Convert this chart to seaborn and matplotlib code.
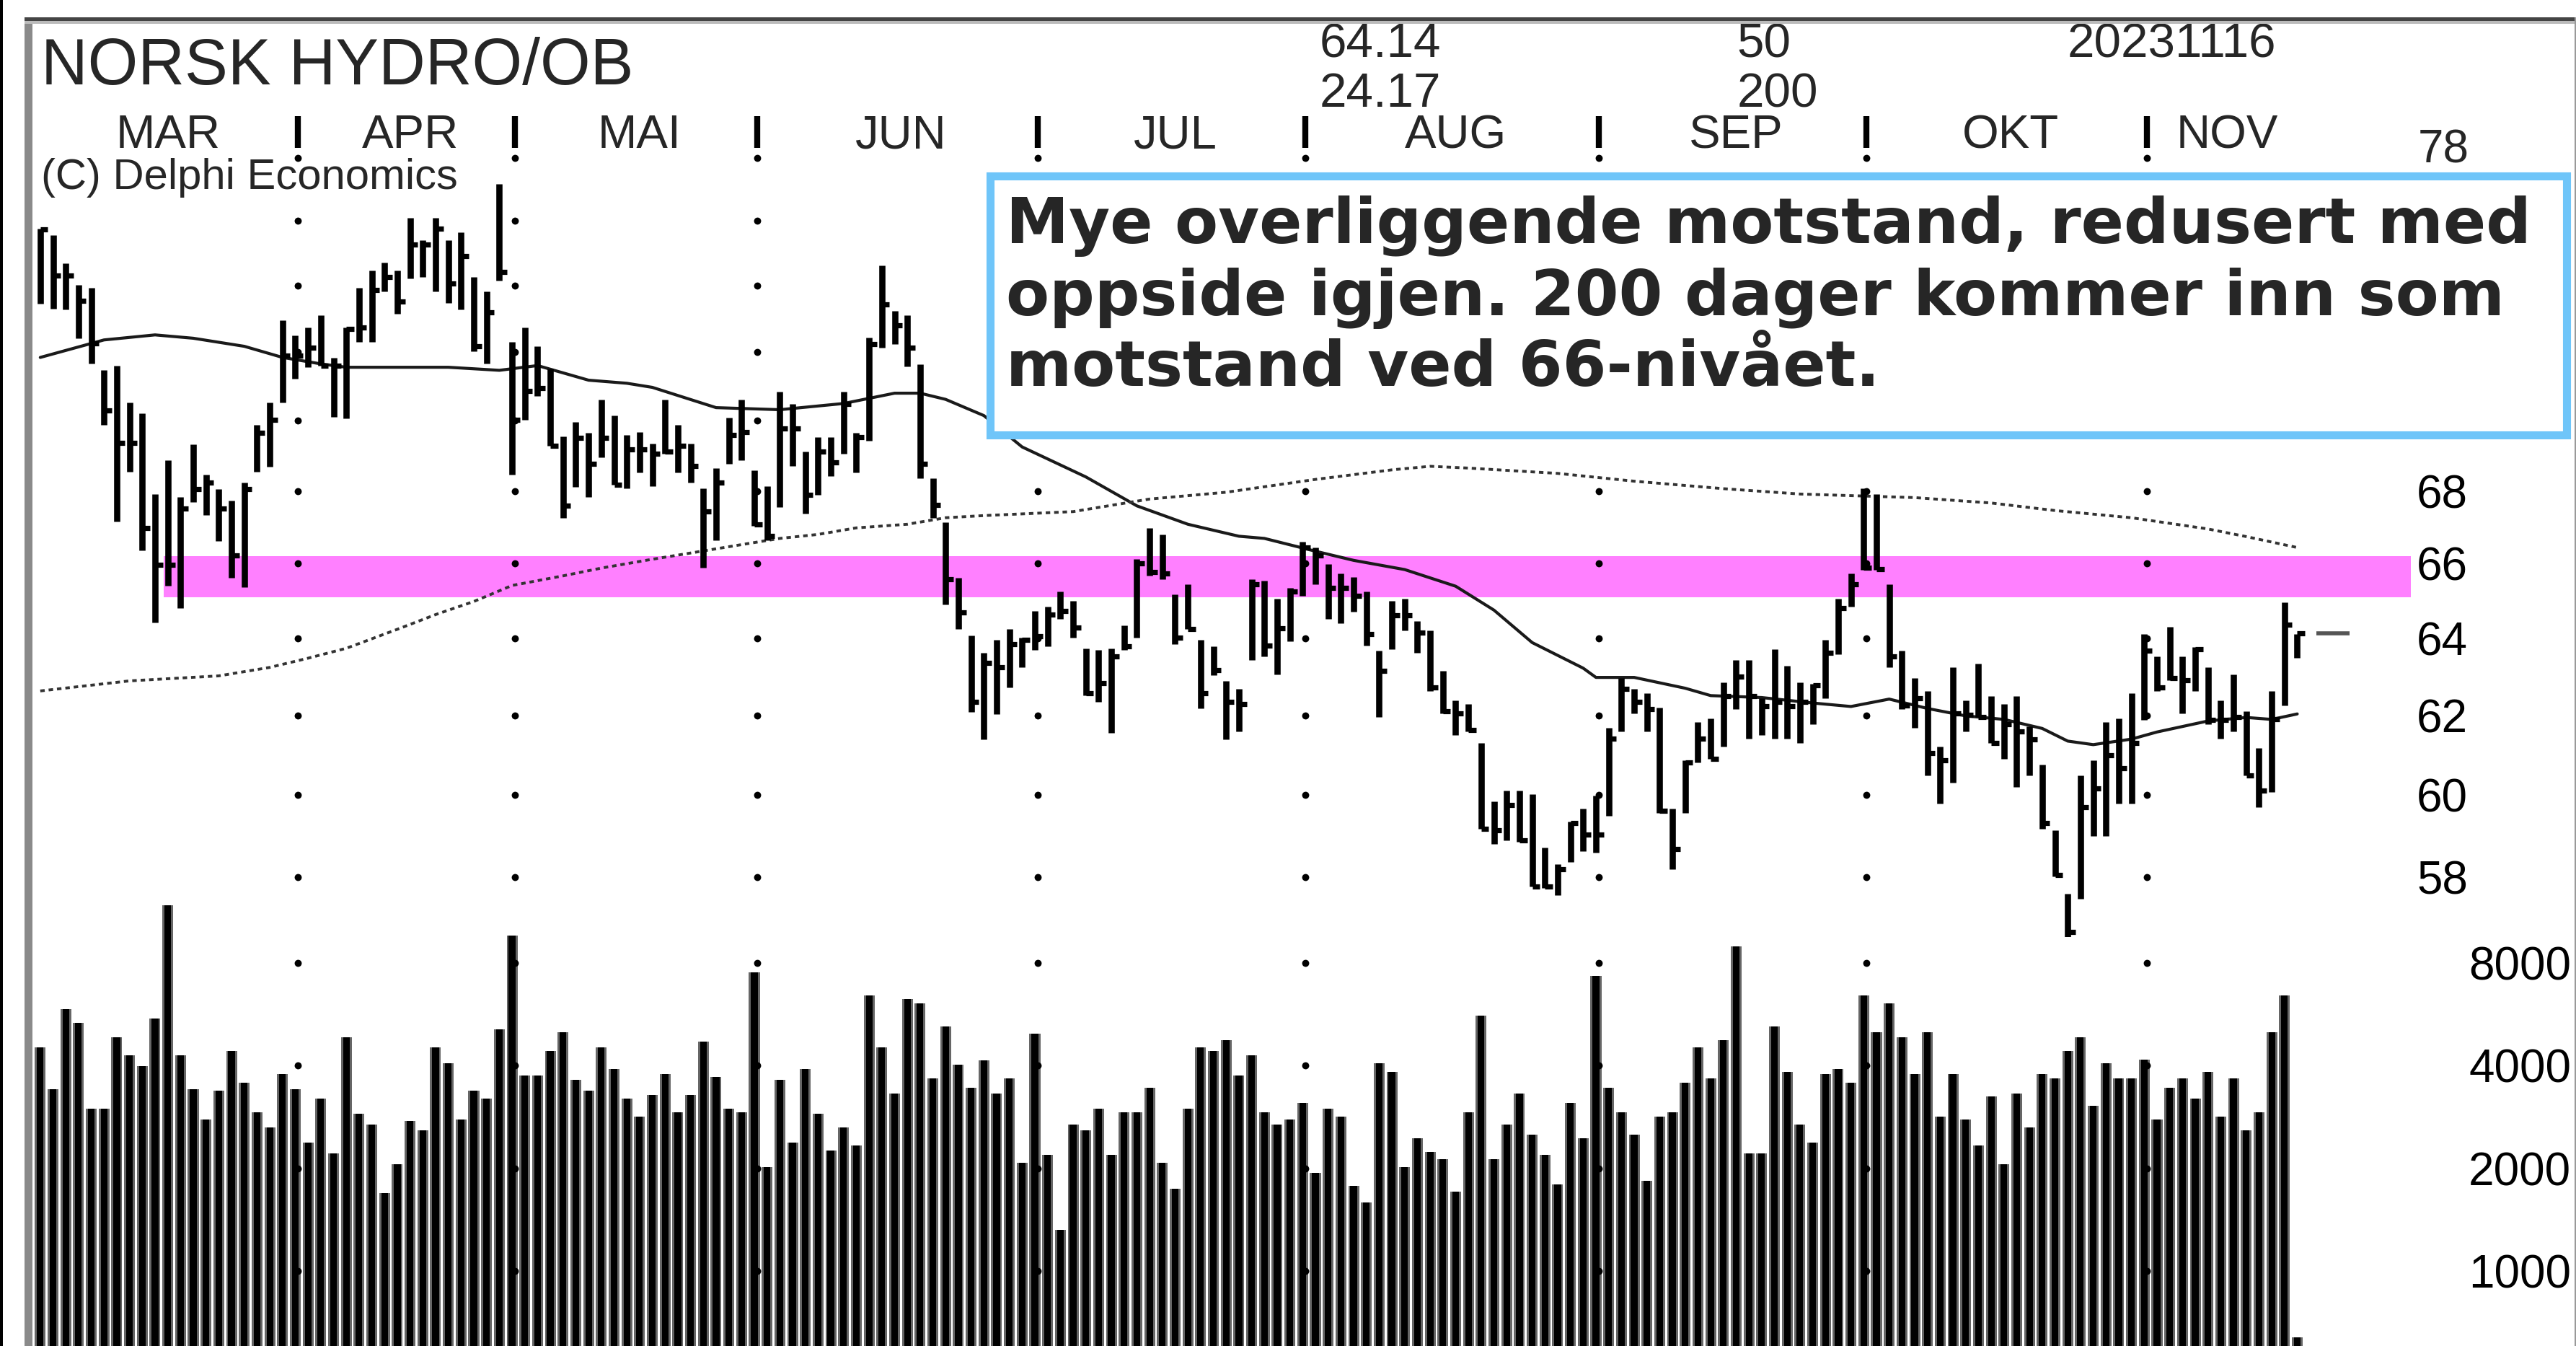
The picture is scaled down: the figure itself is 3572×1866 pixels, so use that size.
import numpy as np
import pandas as pd
import matplotlib
matplotlib.use("Agg")
import matplotlib.pyplot as plt
from matplotlib.patches import Rectangle
from matplotlib.ticker import NullLocator
import seaborn as sns

# daily bars (NOK)
highs = [
    75.77, 75.57, 74.70, 74.03, 73.93, 71.47, 71.61, 70.52, 70.21, 67.92,
    68.87, 67.83, 69.33, 68.46, 68.06, 67.74, 68.24, 69.88, 70.53, 72.95,
    72.51, 72.75, 73.10, 71.85, 72.75, 73.93, 74.46, 74.71, 74.46, 76.10,
    75.40, 76.10, 75.40, 75.65, 74.27, 73.82, 77.17, 72.32, 72.75, 72.18,
    71.51, 69.56, 69.97, 69.65, 70.62, 70.16, 69.59, 69.67, 69.35, 70.61,
    69.89, 69.35, 68.07, 68.65, 70.08, 70.61, 68.59, 68.14, 70.85, 70.49,
    69.12, 69.53, 69.53, 70.85, 69.65, 72.44, 74.63, 73.25, 73.12, 71.64,
    68.36, 67.14, 65.62, 64.07, 63.63, 63.96, 64.24, 64.02, 64.73, 64.85,
    65.24, 65.00, 63.74, 63.69, 63.74, 64.35, 66.12, 66.97, 66.80, 65.17,
    65.45, 63.96, 63.80, 62.88, 62.68, 65.58, 65.54, 65.05, 65.34, 66.59,
    66.44, 65.99, 65.74, 65.64, 65.24, 63.67, 64.99, 65.05, 64.46, 64.21,
    63.15, 62.39, 62.30, 61.31, 59.84, 60.12, 60.12, 60.03, 58.72, 58.32,
    59.35, 59.66, 59.98, 61.69, 62.96, 62.68, 62.58, 62.20, 59.66, 60.86,
    61.83, 61.92, 62.86, 63.43, 63.43, 62.44, 63.72, 63.29, 62.86, 62.82,
    63.97, 65.05, 65.74, 68.07, 67.92, 65.44, 63.67, 62.96, 62.63, 61.22,
    63.24, 62.39, 63.34, 62.49, 62.30, 62.49, 61.73, 60.76, 59.13, 57.62,
    60.49, 60.86, 61.83, 61.92, 62.58, 64.12, 63.53, 64.31, 63.53, 63.77,
    63.24, 62.39, 63.05, 62.11, 61.18, 62.63, 64.95, 64.12]
lows = [
    73.45, 73.30, 73.29, 72.42, 71.66, 69.88, 67.16, 68.55, 66.36, 64.42,
    65.41, 64.81, 67.70, 67.34, 66.62, 65.62, 65.36, 68.55, 68.69, 70.53,
    71.23, 71.56, 71.61, 70.12, 70.07, 72.32, 72.32, 73.82, 73.15, 74.22,
    74.27, 73.82, 73.48, 73.29, 72.03, 71.66, 74.17, 68.46, 70.03, 70.71,
    69.28, 67.25, 68.11, 67.83, 68.96, 68.19, 68.07, 68.53, 68.14, 69.06,
    68.53, 68.24, 65.90, 66.63, 68.77, 68.88, 67.03, 66.63, 67.55, 68.71,
    67.38, 67.90, 68.42, 69.06, 68.53, 69.42, 72.13, 72.25, 71.58, 68.36,
    67.26, 64.90, 64.24, 62.09, 61.40, 62.03, 62.72, 63.25, 63.69, 63.80,
    64.52, 64.02, 62.51, 62.35, 61.56, 63.69, 64.02, 65.68, 65.57, 63.85,
    64.24, 62.19, 63.04, 61.40, 61.59, 63.44, 63.53, 63.05, 63.92, 65.14,
    65.44, 64.51, 64.41, 64.70, 63.82, 61.97, 63.72, 64.21, 63.63, 62.63,
    62.06, 61.50, 61.59, 59.17, 58.81, 58.90, 58.86, 57.79, 57.75, 57.57,
    58.37, 58.63, 58.59, 59.49, 61.59, 62.06, 61.59, 59.57, 58.20, 59.57,
    60.81, 60.90, 61.22, 62.16, 61.41, 61.50, 61.41, 61.41, 61.31, 61.78,
    62.44, 63.58, 64.85, 65.84, 65.84, 63.24, 62.16, 61.69, 60.49, 59.80,
    60.31, 61.59, 61.97, 61.31, 60.90, 60.21, 60.49, 59.17, 58.02, 56.54,
    57.49, 58.99, 58.99, 59.80, 59.80, 61.88, 62.63, 62.91, 62.06, 62.63,
    61.78, 61.41, 61.59, 60.49, 59.71, 60.08, 62.25, 63.48]
closes = [
    75.75, 74.32, 74.32, 73.54, 72.27, 70.30, 69.37, 69.37, 66.98, 65.97,
    65.97, 67.52, 68.06, 68.24, 67.52, 66.23, 68.06, 69.65, 70.03, 71.90,
    71.90, 72.13, 71.61, 71.61, 72.70, 72.75, 73.87, 74.27, 73.53, 75.26,
    75.26, 75.76, 74.07, 74.91, 72.18, 73.19, 74.42, 70.03, 70.86, 70.95,
    69.28, 67.60, 69.51, 68.78, 69.51, 68.19, 69.18, 69.18, 69.06, 69.12,
    69.29, 68.71, 67.44, 68.24, 69.59, 69.67, 67.08, 66.75, 69.77, 69.77,
    67.90, 69.11, 68.82, 70.49, 69.53, 72.25, 73.43, 72.80, 72.13, 68.77,
    67.61, 65.57, 64.68, 62.35, 63.36, 63.25, 63.84, 63.97, 64.06, 64.63,
    64.72, 64.29, 62.57, 62.83, 63.53, 63.80, 66.01, 65.78, 65.73, 64.02,
    64.24, 62.57, 63.16, 62.35, 62.30, 65.45, 63.82, 64.26, 65.24, 66.44,
    66.22, 65.34, 65.34, 65.14, 64.11, 63.15, 64.61, 64.61, 64.16, 62.72,
    62.11, 62.06, 61.64, 59.17, 59.13, 59.75, 58.90, 57.79, 57.79, 58.20,
    59.31, 59.04, 59.04, 61.41, 62.68, 62.35, 62.16, 59.62, 58.68, 60.81,
    61.41, 60.90, 62.49, 63.00, 62.49, 62.23, 62.35, 62.23, 62.35, 62.77,
    63.63, 64.81, 65.44, 65.89, 65.86, 63.53, 62.25, 62.44, 61.04, 60.86,
    62.06, 62.02, 61.97, 61.31, 61.78, 61.60, 61.39, 59.31, 58.06, 56.71,
    59.71, 60.16, 60.99, 60.67, 61.31, 63.67, 62.72, 62.96, 62.91, 63.72,
    61.88, 61.88, 61.97, 60.49, 60.12, 61.90, 64.36, 64.14]
volume = [
    4519, 3417, 5852, 5332, 2988, 2988, 4857, 4289, 3991, 5499,
    11820, 4289, 3417, 2780, 3383, 4425, 3560, 2926, 2639, 3788,
    3417, 2381, 3212, 2215, 4857, 2897, 2695, 1693, 2061, 2753,
    2587, 4519, 4076, 2780, 3383, 3212, 5117, 9607, 3751, 3751,
    4425, 5010, 3636, 3383, 4519, 3908, 3212, 2836, 3280, 3788,
    2926, 3280, 4709, 3714, 2988, 2926, 7502, 2018, 3636, 2381,
    3908, 2897, 2262, 2639, 2331, 6423, 4519, 3313, 6289, 6097,
    3673, 5220, 4031, 3455, 4158, 3313, 3673, 2081, 4960, 2193,
    1321, 2695, 2587, 2988, 2193, 2926, 2926, 3455, 2081, 1745,
    2988, 4519, 4425, 4762, 3751, 4289, 2926, 2695, 2780, 3113,
    1937, 2988, 2836, 1782, 1592, 4076, 3830, 2018, 2456, 2237,
    2126, 1710, 2926, 5610, 2126, 2695, 3313, 2508, 2193, 1800,
    3113, 2456, 7346, 3455, 2926, 2508, 1839, 2836, 2926, 3560,
    4519, 3673, 4762, 8938, 2215, 2215, 5220, 3830, 2695, 2381,
    3788, 3908, 3560, 6423, 5010, 6097, 4857, 3788, 5010, 2836,
    3788, 2780, 2331, 3247, 2061, 3313, 2639, 3788, 3673, 4425,
    4857, 3052, 4076, 3673, 3673, 4163, 2780, 3455, 3673, 3212,
    3830, 2836, 3673, 2587, 2926, 5010, 6423, 640]

# moving averages, sampled along the drawn lines
ma50_idx = [0, 5, 9, 12, 16, 19, 22, 24, 32, 36, 39, 43, 46, 48, 53, 58, 63, 67,
            69, 71, 74, 77, 82, 86, 90, 94, 96, 100, 103, 107, 111, 114, 117, 121,
            122, 125, 129, 131, 135, 139, 142, 145, 148, 151, 154, 157, 159, 161,
            164, 166, 170, 173, 175, 177]
ma50_val = [71.85, 72.37, 72.52, 72.42, 72.18, 71.85, 71.66, 71.56, 71.56, 71.47,
            71.61, 71.18, 71.09, 70.97, 70.38, 70.32, 70.50, 70.80, 70.80, 70.62,
            70.15, 69.25, 68.40, 67.59, 67.08, 66.75, 66.69, 66.34, 66.09, 65.84,
            65.39, 64.75, 63.89, 63.22, 62.98, 62.98, 62.70, 62.51, 62.46, 62.32,
            62.23, 62.42, 62.18, 61.99, 61.90, 61.67, 61.35, 61.26, 61.40, 61.58,
            61.86, 61.95, 61.90, 62.04]
ma200_idx = [0, 7, 14, 18, 21, 24, 28, 31, 34, 37, 41, 44, 48, 51, 55, 58, 61, 64,
             68, 71, 74, 81, 87, 93, 100, 106, 109, 112, 119, 125, 132, 138, 147,
             153, 158, 164, 170, 173, 177]
ma200_val = [62.63, 62.89, 63.02, 63.24, 63.48, 63.74, 64.24, 64.63, 64.98, 65.41,
             65.67, 65.88, 66.12, 66.29, 66.52, 66.69, 66.80, 66.98, 67.08, 67.26,
             67.32, 67.43, 67.78, 67.97, 68.33, 68.60, 68.70, 68.65, 68.50, 68.28,
             68.07, 67.92, 67.82, 67.67, 67.46, 67.26, 66.95, 66.74, 66.44]

months = ["MAR", "APR", "MAI", "JUN", "JUL", "AUG", "SEP", "OKT", "NOV"]
month_start = [0, 21, 38, 57, 79, 100, 123, 144, 166]
price_grid = [58, 60, 62, 64, 66, 68, 70, 72, 74, 76, 78]
price_labels = [58, 60, 62, 64, 66, 68]
top_label = 78
volume_grid = [1000, 2000, 4000, 8000]
band_low, band_high = 65.1, 66.2
band_start = 9.7
last_close = 64.14
header_top = ["64.14", "50", "20231116"]
header_bottom = ["24.17", "200"]
note = ["Mye overliggende motstand, redusert med",
        "oppside igjen. 200 dager kommer inn som",
        "motstand ved 66-nivået."]

sns.set_theme(style="white")
plt.rcParams["font.family"] = ["Liberation Sans", "DejaVu Sans"]

# layout is measured on a 1568 x 819 grid
W, H = 1568.0, 819.0
def fx(x):
    return x / W
def fy(y):
    return 1 - y / H

fig = plt.figure(figsize=(35.73, 18.66), dpi=100)
fig.patch.set_facecolor("white")

ax = fig.add_axes([fx(20), fy(570), fx(1467) - fx(20), fy(85) - fy(570)])
axv = fig.add_axes([fx(20), 0, fx(1467) - fx(20), fy(540)])
xmax = 185.9
for a in (ax, axv):
    a.set_facecolor("none")
    for s in a.spines.values():
        s.set_visible(False)
    a.set_xlim(-0.58, xmax)
    a.set_xticks([])
    a.set_yscale("log")
    a.yaxis.set_minor_locator(NullLocator())
ax.set_ylim(56.60, 78.59)
axv.set_ylim(603.6, 13320)

x = np.arange(len(highs))
seps = [s - 0.8 for s in month_start[1:]]

# resistance band
ax.fill_between([band_start, xmax], band_low, band_high, color="#FF80FF", lw=0, zorder=1)

# dotted grid points at month breaks
grid_df = pd.DataFrame([(s, lv) for s in seps for lv in price_grid], columns=["x", "y"])
sns.scatterplot(data=grid_df, x="x", y="y", ax=ax, color="black", s=50,
                linewidth=0, zorder=2, legend=False)
vgrid_df = pd.DataFrame([(s, lv) for s in seps for lv in volume_grid], columns=["x", "y"])
sns.scatterplot(data=vgrid_df, x="x", y="y", ax=axv, color="black", s=50,
                linewidth=0, zorder=4, legend=False)

# moving averages
sns.lineplot(x=ma50_idx, y=ma50_val, ax=ax, color="#1a1a1a", linewidth=3, zorder=3)
sns.lineplot(x=ma200_idx, y=ma200_val, ax=ax, color="#333333", linewidth=2.8,
             linestyle=(0, (1.6, 1.4)), zorder=3)

# HLC bars
ax.vlines(x, lows, highs, colors="black", lw=6.2, zorder=4)
ax.hlines(closes, x, x + 0.6, colors="black", lw=5.2, zorder=4)
ax.hlines(last_close, 178.5, 181.1, colors="#555555", lw=4, zorder=4)

# volume
vol = np.array(volume, dtype=float)
axv.bar(x, vol - 100, bottom=100, width=0.85, color="#666666", lw=0, zorder=2)
axv.bar(x, vol - 100, bottom=100, width=0.52, color="black", lw=0, zorder=3)

for a in (ax, axv):
    a.set_xlabel("")
    a.set_ylabel("")

# right hand scales
ax.yaxis.tick_right()
ax.set_yticks(price_labels, labels=[str(v) for v in price_labels])
ax.tick_params(axis="y", length=0, pad=6, labelsize=46, colors="black")
ax.annotate(str(top_label), xy=(1, top_label), xycoords=ax.get_yaxis_transform(),
            xytext=(7, 7.4), textcoords="offset points", ha="left", va="center",
            fontsize=46, annotation_clip=False)
axv.yaxis.tick_right()
axv.set_yticks(volume_grid, labels=[str(v) for v in volume_grid])
axv.tick_params(axis="y", length=0, pad=160, labelsize=46, colors="black")
for lab in axv.get_yticklabels():
    lab.set_ha("right")

# month row
xt = ax.get_xaxis_transform()
ax.vlines(seps, 0.9897, 1.0299, transform=xt, colors="black", lw=6, clip_on=False)
ends = month_start[1:] + [len(highs)]
for name, s, e in zip(months, month_start, ends):
    ax.text((s + e - 1) / 2, 0.9897, name, transform=xt, ha="center",
            va="baseline", fontsize=47, clip_on=False)

# header texts
fig.text(fx(25), fy(51.2), "NORSK HYDRO/OB", fontsize=64.5, va="baseline")
fig.text(fx(25), fy(115), "(C) Delphi Economics", fontsize=43, va="baseline")
for txt, xp in zip(header_top, [803, 1057, 1258]):
    fig.text(fx(xp), fy(35), txt, fontsize=48.5, va="baseline")
for txt, xp in zip(header_bottom, [803, 1057]):
    fig.text(fx(xp), fy(65), txt, fontsize=48.5, va="baseline")

# comment box
fig.patches.append(Rectangle((fx(602.5), fy(264.5)), fx(1562) - fx(602.5),
                             fy(107) - fy(264.5), transform=fig.transFigure,
                             facecolor="white", edgecolor="#6FC5F9", linewidth=8,
                             zorder=5))
for line, yb in zip(note, [147.7, 191.6, 234.8]):
    fig.text(fx(612), fy(yb), line, fontsize=63, fontweight="bold", va="baseline",
             family=["DejaVu Sans"], zorder=6)

# frame lines
frame = [((0, 0), fx(1.75), 1, "black"),
         ((fx(15), 0), fx(4.8), fy(10.5), "#8a8a8a"),
         ((fx(15), fy(12.7)), 1 - fx(15), fy(10.5) - fy(12.7), "#444444"),
         ((fx(15), fy(14.5)), 1 - fx(15), fy(12.7) - fy(14.5), "#bbbbbb"),
         ((1 - fx(1.5), 0), fx(1.5), fy(10.5), "#999999")]
for xy, w, h, c in frame:
    fig.patches.append(Rectangle(xy, w, h, transform=fig.transFigure, color=c, lw=0, zorder=7))

fig.savefig("out.png", dpi=100)
